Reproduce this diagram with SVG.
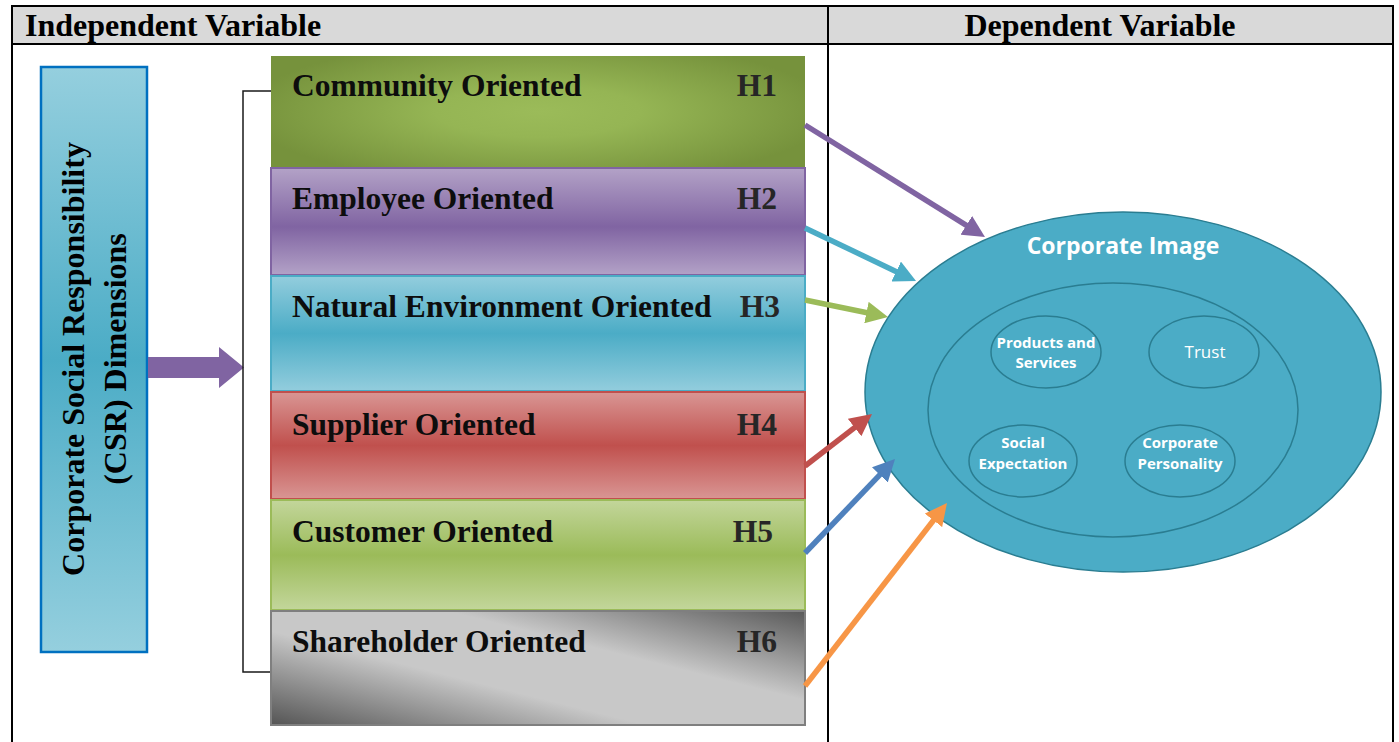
<svg xmlns="http://www.w3.org/2000/svg" width="1399" height="742" viewBox="0 0 1399 742">
  <style>
    .hdr { font-family: "Liberation Serif", "Times New Roman", serif; font-weight: bold; font-size: 32px; fill: #000; }
    .lbl { font-family: "Liberation Serif", "Times New Roman", serif; font-weight: bold; font-size: 31.5px; fill: #0d0d0d; }
    .hyp { font-family: "Liberation Serif", "Times New Roman", serif; font-weight: bold; font-size: 31.5px; fill: #262626; }
    .csr { font-family: "Liberation Serif", "Times New Roman", serif; font-weight: bold; font-size: 32px; fill: #000; }
    .grid { stroke: #000; stroke-width: 2; fill: none; }
    .title { font-family: "Open Sans", "Liberation Sans", sans-serif; font-weight: bold; font-size: 23px; fill: #fff; }
    .sub { font-family: "Open Sans", "Liberation Sans", sans-serif; font-weight: bold; font-size: 15px; fill: #fff; }
    .subn { font-family: "Open Sans", "Liberation Sans", sans-serif; font-size: 17px; fill: #fff; }
    .oval { fill: #4bacc6; stroke: #2a7d91; stroke-width: 1.5; }
    .conn { fill: none; stroke-width: 5.5; }
  </style>
  <defs>
    <linearGradient id="gCsr" x1="0" y1="0" x2="0" y2="1">
      <stop offset="0" stop-color="#95cfde"/>
      <stop offset="0.5" stop-color="#4bacc6"/>
      <stop offset="1" stop-color="#95cfde"/>
    </linearGradient>
    <radialGradient id="gCommunity" cx="0.5" cy="0.5" r="0.55" gradientTransform="translate(0.5 0.5) scale(1 1.2) translate(-0.5 -0.5)">
      <stop offset="0" stop-color="#9bbb59"/>
      <stop offset="0.35" stop-color="#95b554"/>
      <stop offset="1" stop-color="#76923c"/>
    </radialGradient>
    <linearGradient id="gEmployee" x1="0" y1="0" x2="0" y2="1">
      <stop offset="0" stop-color="#b3a2c7"/>
      <stop offset="0.55" stop-color="#8064a2"/>
      <stop offset="1" stop-color="#b3a2c7"/>
    </linearGradient>
    <linearGradient id="gNatural" x1="0" y1="0" x2="0" y2="1">
      <stop offset="0" stop-color="#93cddd"/>
      <stop offset="0.5" stop-color="#4bacc6"/>
      <stop offset="1" stop-color="#93cddd"/>
    </linearGradient>
    <linearGradient id="gSupplier" x1="0" y1="0" x2="0" y2="1">
      <stop offset="0" stop-color="#d99694"/>
      <stop offset="0.5" stop-color="#c0504d"/>
      <stop offset="1" stop-color="#d99694"/>
    </linearGradient>
    <linearGradient id="gCustomer" x1="0" y1="0" x2="0" y2="1">
      <stop offset="0" stop-color="#c3d69b"/>
      <stop offset="0.5" stop-color="#9bbb59"/>
      <stop offset="1" stop-color="#c3d69b"/>
    </linearGradient>
    <linearGradient id="gShareholder" gradientUnits="userSpaceOnUse" x1="508" y1="784" x2="566" y2="552">
      <stop offset="0" stop-color="#555"/>
      <stop offset="0.38" stop-color="#c8c8c8"/>
      <stop offset="0.64" stop-color="#c8c8c8"/>
      <stop offset="1" stop-color="#5a5a5a"/>
    </linearGradient>
    <marker id="mPurple" markerUnits="userSpaceOnUse" markerWidth="24" markerHeight="22" refX="2" refY="11" orient="auto"><path d="M0,0 L22,11 L0,22 z" fill="#8064a2"/></marker>
    <marker id="mCyan" markerUnits="userSpaceOnUse" markerWidth="24" markerHeight="22" refX="2" refY="11" orient="auto"><path d="M0,0 L22,11 L0,22 z" fill="#4bacc6"/></marker>
    <marker id="mGreen" markerUnits="userSpaceOnUse" markerWidth="24" markerHeight="22" refX="2" refY="11" orient="auto"><path d="M0,0 L22,11 L0,22 z" fill="#9bbb59"/></marker>
    <marker id="mRed" markerUnits="userSpaceOnUse" markerWidth="24" markerHeight="22" refX="2" refY="11" orient="auto"><path d="M0,0 L22,11 L0,22 z" fill="#c0504d"/></marker>
    <marker id="mBlue" markerUnits="userSpaceOnUse" markerWidth="24" markerHeight="22" refX="2" refY="11" orient="auto"><path d="M0,0 L22,11 L0,22 z" fill="#4f81bd"/></marker>
    <marker id="mOrange" markerUnits="userSpaceOnUse" markerWidth="24" markerHeight="22" refX="2" refY="11" orient="auto"><path d="M0,0 L22,11 L0,22 z" fill="#f79646"/></marker>
  </defs>

  <rect width="1399" height="742" fill="#fff"/>

  <!-- table frame -->
  <g id="table">
    <rect x="12" y="6" width="1381" height="38" fill="#d9d9d9"/>
    <path class="grid" d="M12,760 V6 H1393 V760 M12,44 H1393 M828,6 V760"/>
    <text class="hdr" x="25" y="36">Independent Variable</text>
    <text class="hdr" x="1100" y="36" text-anchor="middle">Dependent Variable</text>
  </g>

  <!-- CSR dimensions block -->
  <g id="csr">
    <rect x="41" y="67" width="106" height="585" fill="url(#gCsr)" stroke="#0070c0" stroke-width="2.5"/>
    <text class="csr" transform="translate(84 359) rotate(-90)" text-anchor="middle">Corporate Social Responsibility</text>
    <text class="csr" transform="translate(126 359) rotate(-90)" text-anchor="middle">(CSR) Dimensions</text>
  </g>

  <!-- block arrow and bracket -->
  <g id="csr-arrow">
    <polygon points="148,357 219,357 219,347 244,367.5 219,388 219,378 148,378" fill="#8064a2"/>
  </g>
  <g id="bracket">
    <polyline points="271,91 243,91 243,672 271,672" fill="none" stroke="#1a1a1a" stroke-width="1.5"/>
  </g>

  <!-- dimension boxes -->
  <g id="community">
    <rect x="271" y="56" width="534" height="111" fill="url(#gCommunity)"/>
    <text class="lbl" x="292" y="96">Community Oriented</text>
    <text class="hyp" x="777" y="96" text-anchor="end">H1</text>
  </g>
  <g id="employee">
    <rect x="271" y="168" width="534" height="107" fill="url(#gEmployee)" stroke="#8064a2" stroke-width="2"/>
    <text class="lbl" x="292" y="209">Employee Oriented</text>
    <text class="hyp" x="777" y="209" text-anchor="end">H2</text>
  </g>
  <g id="natural-environment">
    <rect x="271" y="276" width="534" height="115" fill="url(#gNatural)" stroke="#4bacc6" stroke-width="2"/>
    <text class="lbl" x="292" y="317">Natural Environment Oriented</text>
    <text class="hyp" x="780" y="317" text-anchor="end">H3</text>
  </g>
  <g id="supplier">
    <rect x="271" y="392" width="534" height="107" fill="url(#gSupplier)" stroke="#c0504d" stroke-width="2"/>
    <text class="lbl" x="292" y="435">Supplier Oriented</text>
    <text class="hyp" x="777" y="435" text-anchor="end">H4</text>
  </g>
  <g id="customer">
    <rect x="271" y="500" width="534" height="110" fill="url(#gCustomer)" stroke="#9bbb59" stroke-width="2"/>
    <text class="lbl" x="292" y="542">Customer Oriented</text>
    <text class="hyp" x="773" y="542" text-anchor="end">H5</text>
  </g>
  <g id="shareholder">
    <rect x="271" y="611" width="534" height="114" fill="url(#gShareholder)" stroke="#7f7f7f" stroke-width="2"/>
    <text class="lbl" x="292" y="652">Shareholder Oriented</text>
    <text class="hyp" x="777" y="652" text-anchor="end">H6</text>
  </g>

  <!-- corporate image -->
  <g id="corporate-image">
    <ellipse class="oval" cx="1123" cy="392" rx="258" ry="180"/>
    <ellipse class="oval" cx="1113" cy="410" rx="185" ry="127"/>
    <text class="title" x="1123" y="254" text-anchor="middle">Corporate Image</text>
  </g>
  <g id="products-services">
    <ellipse class="oval" cx="1046" cy="352" rx="55" ry="36"/>
    <text class="sub" x="1046" y="348" text-anchor="middle" font-size="12.5">Products and</text>
    <text class="sub" x="1046" y="368" text-anchor="middle" font-size="12.5">Services</text>
  </g>
  <g id="trust">
    <ellipse class="oval" cx="1204" cy="352" rx="55" ry="36"/>
    <text class="subn" x="1205" y="358" text-anchor="middle">Trust</text>
  </g>
  <g id="social-expectation">
    <ellipse class="oval" cx="1023" cy="461" rx="54" ry="36"/>
    <text class="sub" x="1023" y="448" text-anchor="middle">Social</text>
    <text class="sub" x="1023" y="469" text-anchor="middle">Expectation</text>
  </g>
  <g id="corporate-personality">
    <ellipse class="oval" cx="1180" cy="461" rx="55" ry="36"/>
    <text class="sub" x="1180" y="448" text-anchor="middle">Corporate</text>
    <text class="sub" x="1180" y="469" text-anchor="middle">Personality</text>
  </g>

  <!-- hypothesis connectors -->
  <g id="connectors">
    <line class="conn" x1="805" y1="125" x2="968" y2="226.4" stroke="#8064a2" marker-end="url(#mPurple)"/>
    <line class="conn" x1="805" y1="228" x2="898" y2="272.4" stroke="#4bacc6" marker-end="url(#mCyan)"/>
    <line class="conn" x1="805" y1="300" x2="868.4" y2="313" stroke="#9bbb59" marker-end="url(#mGreen)"/>
    <line class="conn" x1="805" y1="466" x2="856.2" y2="426.3" stroke="#c0504d" marker-end="url(#mRed)"/>
    <line class="conn" x1="805" y1="553" x2="881.2" y2="473.4" stroke="#4f81bd" marker-end="url(#mBlue)"/>
    <line class="conn" x1="805" y1="686" x2="934.7" y2="518.8" stroke="#f79646" marker-end="url(#mOrange)"/>
  </g>
</svg>
